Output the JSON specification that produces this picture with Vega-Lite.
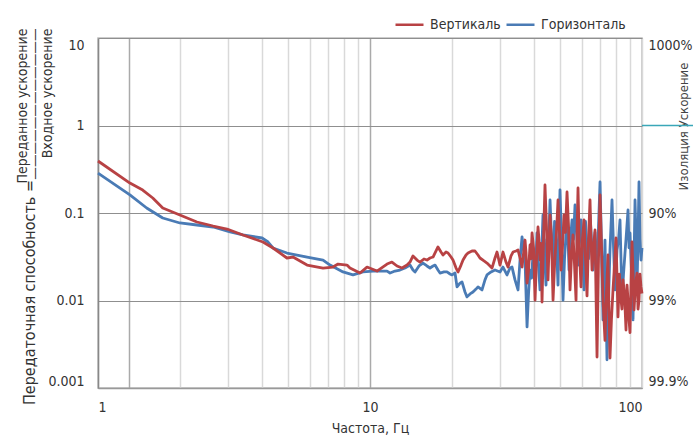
{
  "$schema": "https://vega.github.io/schema/vega-lite/v6.json",
  "width": 544,
  "height": 350,
  "autosize": {"type": "none"},
  "padding": {"left": 98, "top": 38, "right": 51, "bottom": 47},
  "background": "white",
  "config": {
    "font": "Liberation Sans Narrow, DejaVu Sans Condensed, Roboto",
    "view": {"stroke": "#bdbdbd", "strokeWidth": 1.5}
  },
  "title": {
    "text": "Передаточная способность =",
    "orient": "left",
    "anchor": "start",
    "frame": "group",
    "fontSize": 16,
    "fontWeight": "normal",
    "color": "#333333",
    "offset": -23,
    "dx": -17
  },
  "datasets": {
    "curves": [
      {"s": "Горизонталь", "f": 1.0, "v": 0.286},
      {"s": "Горизонталь", "f": 1.31, "v": 0.161},
      {"s": "Горизонталь", "f": 1.51, "v": 0.114},
      {"s": "Горизонталь", "f": 1.73, "v": 0.0877},
      {"s": "Горизонталь", "f": 2.0, "v": 0.0769},
      {"s": "Горизонталь", "f": 2.31, "v": 0.0729},
      {"s": "Горизонталь", "f": 2.65, "v": 0.0692},
      {"s": "Горизонталь", "f": 3.06, "v": 0.0607},
      {"s": "Горизонталь", "f": 3.41, "v": 0.0561},
      {"s": "Горизонталь", "f": 4.01, "v": 0.0518},
      {"s": "Горизонталь", "f": 4.22, "v": 0.0466},
      {"s": "Горизонталь", "f": 4.4, "v": 0.0398},
      {"s": "Горизонталь", "f": 4.95, "v": 0.0349},
      {"s": "Горизонталь", "f": 5.87, "v": 0.0314},
      {"s": "Горизонталь", "f": 6.72, "v": 0.029},
      {"s": "Горизонталь", "f": 7.13, "v": 0.0254},
      {"s": "Горизонталь", "f": 7.96, "v": 0.0212},
      {"s": "Горизонталь", "f": 8.66, "v": 0.0196},
      {"s": "Горизонталь", "f": 9.42, "v": 0.0212},
      {"s": "Горизонталь", "f": 10.26, "v": 0.0217},
      {"s": "Горизонталь", "f": 11.55, "v": 0.0217},
      {"s": "Горизонталь", "f": 11.85, "v": 0.0206},
      {"s": "Горизонталь", "f": 12.36, "v": 0.0217},
      {"s": "Горизонталь", "f": 12.89, "v": 0.0223},
      {"s": "Горизонталь", "f": 13.45, "v": 0.0235},
      {"s": "Горизонталь", "f": 14.03, "v": 0.0254},
      {"s": "Горизонталь", "f": 14.39, "v": 0.0223},
      {"s": "Горизонталь", "f": 14.64, "v": 0.0212},
      {"s": "Горизонталь", "f": 15.14, "v": 0.0248},
      {"s": "Горизонталь", "f": 15.66, "v": 0.0268},
      {"s": "Горизонталь", "f": 16.2, "v": 0.0248},
      {"s": "Горизонталь", "f": 16.62, "v": 0.0235},
      {"s": "Горизонталь", "f": 17.05, "v": 0.0248},
      {"s": "Горизонталь", "f": 17.34, "v": 0.0254},
      {"s": "Горизонталь", "f": 17.78, "v": 0.0223},
      {"s": "Горизонталь", "f": 18.09, "v": 0.0206},
      {"s": "Горизонталь", "f": 18.71, "v": 0.0212},
      {"s": "Горизонталь", "f": 19.19, "v": 0.0212},
      {"s": "Горизонталь", "f": 19.69, "v": 0.0201},
      {"s": "Горизонталь", "f": 20.02, "v": 0.0196},
      {"s": "Горизонталь", "f": 20.54, "v": 0.0206},
      {"s": "Горизонталь", "f": 20.89, "v": 0.0143},
      {"s": "Горизонталь", "f": 21.43, "v": 0.0158},
      {"s": "Горизонталь", "f": 21.79, "v": 0.0163},
      {"s": "Горизонталь", "f": 22.35, "v": 0.0125},
      {"s": "Горизонталь", "f": 22.73, "v": 0.011},
      {"s": "Горизонталь", "f": 23.32, "v": 0.0119},
      {"s": "Горизонталь", "f": 23.91, "v": 0.0125},
      {"s": "Горизонталь", "f": 24.53, "v": 0.0135},
      {"s": "Горизонталь", "f": 24.95, "v": 0.0143},
      {"s": "Горизонталь", "f": 25.81, "v": 0.0132},
      {"s": "Горизонталь", "f": 26.47, "v": 0.0172},
      {"s": "Горизонталь", "f": 26.92, "v": 0.0196},
      {"s": "Горизонталь", "f": 27.86, "v": 0.0212},
      {"s": "Горизонталь", "f": 28.81, "v": 0.0223},
      {"s": "Горизонталь", "f": 30.06, "v": 0.0212},
      {"s": "Горизонталь", "f": 30.83, "v": 0.0241},
      {"s": "Горизонталь", "f": 31.89, "v": 0.0196},
      {"s": "Горизонталь", "f": 32.71, "v": 0.0235},
      {"s": "Горизонталь", "f": 33.28, "v": 0.0241},
      {"s": "Горизонталь", "f": 34.13, "v": 0.0172},
      {"s": "Горизонталь", "f": 35.01, "v": 0.0132},
      {"s": "Горизонталь", "f": 35.61, "v": 0.029},
      {"s": "Горизонталь", "f": 36.22, "v": 0.0532},
      {"s": "Горизонталь", "f": 37.15, "v": 0.029},
      {"s": "Горизонталь", "f": 37.79, "v": 0.005},
      {"s": "Горизонталь", "f": 38.27, "v": 0.012},
      {"s": "Горизонталь", "f": 38.76, "v": 0.0223},
      {"s": "Горизонталь", "f": 39.26, "v": 0.018},
      {"s": "Горизонталь", "f": 39.76, "v": 0.0349},
      {"s": "Горизонталь", "f": 40.1, "v": 0.03},
      {"s": "Горизонталь", "f": 40.44, "v": 0.0172},
      {"s": "Горизонталь", "f": 40.77, "v": 0.03},
      {"s": "Горизонталь", "f": 41.11, "v": 0.0591},
      {"s": "Горизонталь", "f": 41.64, "v": 0.025},
      {"s": "Горизонталь", "f": 42.17, "v": 0.0132},
      {"s": "Горизонталь", "f": 42.7, "v": 0.03},
      {"s": "Горизонталь", "f": 43.25, "v": 0.0949},
      {"s": "Горизонталь", "f": 43.8, "v": 0.035},
      {"s": "Горизонталь", "f": 44.37, "v": 0.015},
      {"s": "Горизонталь", "f": 44.75, "v": 0.05},
      {"s": "Горизонталь", "f": 45.13, "v": 0.029},
      {"s": "Горизонталь", "f": 45.52, "v": 0.06},
      {"s": "Горизонталь", "f": 45.91, "v": 0.1408},
      {"s": "Горизонталь", "f": 46.5, "v": 0.05},
      {"s": "Горизонталь", "f": 47.09, "v": 0.0196},
      {"s": "Горизонталь", "f": 47.7, "v": 0.08},
      {"s": "Горизонталь", "f": 48.3, "v": 0.0491},
      {"s": "Горизонталь", "f": 48.7, "v": 0.03},
      {"s": "Горизонталь", "f": 49.12, "v": 0.015},
      {"s": "Горизонталь", "f": 49.5, "v": 0.06},
      {"s": "Горизонталь", "f": 49.95, "v": 0.1832},
      {"s": "Горизонталь", "f": 50.6, "v": 0.05},
      {"s": "Горизонталь", "f": 51.24, "v": 0.0101},
      {"s": "Горизонталь", "f": 51.9, "v": 0.03},
      {"s": "Горизонталь", "f": 52.56, "v": 0.0561},
      {"s": "Горизонталь", "f": 53.2, "v": 0.09},
      {"s": "Горизонталь", "f": 53.91, "v": 0.0223},
      {"s": "Горизонталь", "f": 54.6, "v": 0.05},
      {"s": "Горизонталь", "f": 55.3, "v": 0.0832},
      {"s": "Горизонталь", "f": 56.0, "v": 0.05},
      {"s": "Горизонталь", "f": 56.72, "v": 0.1234},
      {"s": "Горизонталь", "f": 57.4, "v": 0.07},
      {"s": "Горизонталь", "f": 58.18, "v": 0.0254},
      {"s": "Горизонталь", "f": 58.9, "v": 0.05},
      {"s": "Горизонталь", "f": 59.68, "v": 0.0832},
      {"s": "Горизонталь", "f": 60.4, "v": 0.04},
      {"s": "Горизонталь", "f": 61.22, "v": 0.0132},
      {"s": "Горизонталь", "f": 62.0, "v": 0.08},
      {"s": "Горизонталь", "f": 62.79, "v": 0.0378},
      {"s": "Горизонталь", "f": 63.6, "v": 0.03},
      {"s": "Горизонталь", "f": 64.4, "v": 0.0949},
      {"s": "Горизонталь", "f": 65.2, "v": 0.05},
      {"s": "Горизонталь", "f": 66.06, "v": 0.0223},
      {"s": "Горизонталь", "f": 67.2, "v": 0.06},
      {"s": "Горизонталь", "f": 68.34, "v": 0.0143},
      {"s": "Горизонталь", "f": 69.2, "v": 0.07},
      {"s": "Горизонталь", "f": 70.1, "v": 0.2261},
      {"s": "Горизонталь", "f": 71.0, "v": 0.04},
      {"s": "Горизонталь", "f": 71.9, "v": 0.006},
      {"s": "Горизонталь", "f": 72.5, "v": 0.02},
      {"s": "Горизонталь", "f": 73.11, "v": 0.0491},
      {"s": "Горизонталь", "f": 73.7, "v": 0.01},
      {"s": "Горизонталь", "f": 74.36, "v": 0.0021},
      {"s": "Горизонталь", "f": 75.3, "v": 0.01},
      {"s": "Горизонталь", "f": 76.27, "v": 0.0378},
      {"s": "Горизонталь", "f": 76.9, "v": 0.07},
      {"s": "Горизонталь", "f": 77.57, "v": 0.1408},
      {"s": "Горизонталь", "f": 78.6, "v": 0.04},
      {"s": "Горизонталь", "f": 79.57, "v": 0.0132},
      {"s": "Горизонталь", "f": 80.2, "v": 0.02},
      {"s": "Горизонталь", "f": 80.93, "v": 0.0378},
      {"s": "Горизонталь", "f": 82.0, "v": 0.05},
      {"s": "Горизонталь", "f": 83.01, "v": 0.0832},
      {"s": "Горизонталь", "f": 83.7, "v": 0.03},
      {"s": "Горизонталь", "f": 84.44, "v": 0.0101},
      {"s": "Горизонталь", "f": 85.5, "v": 0.02},
      {"s": "Горизонталь", "f": 86.6, "v": 0.0349},
      {"s": "Горизонталь", "f": 87.7, "v": 0.06},
      {"s": "Горизонталь", "f": 88.84, "v": 0.1082},
      {"s": "Горизонталь", "f": 89.6, "v": 0.04},
      {"s": "Горизонталь", "f": 90.35, "v": 0.0591},
      {"s": "Горизонталь", "f": 91.5, "v": 0.02},
      {"s": "Горизонталь", "f": 92.68, "v": 0.006},
      {"s": "Горизонталь", "f": 93.5, "v": 0.03},
      {"s": "Горизонталь", "f": 94.26, "v": 0.1408},
      {"s": "Горизонталь", "f": 95.0, "v": 0.06},
      {"s": "Горизонталь", "f": 95.86, "v": 0.0143},
      {"s": "Горизонталь", "f": 96.7, "v": 0.05},
      {"s": "Горизонталь", "f": 97.5, "v": 0.2261},
      {"s": "Горизонталь", "f": 98.3, "v": 0.05},
      {"s": "Горизонталь", "f": 99.16, "v": 0.029},
      {"s": "Горизонталь", "f": 100, "v": 0.04},
      {"s": "Вертикаль", "f": 1.0, "v": 0.393},
      {"s": "Вертикаль", "f": 1.31, "v": 0.22},
      {"s": "Вертикаль", "f": 1.46, "v": 0.183},
      {"s": "Вертикаль", "f": 1.59, "v": 0.1484},
      {"s": "Вертикаль", "f": 1.73, "v": 0.114},
      {"s": "Вертикаль", "f": 2.0, "v": 0.0949},
      {"s": "Вертикаль", "f": 2.31, "v": 0.0789},
      {"s": "Вертикаль", "f": 2.65, "v": 0.071},
      {"s": "Вертикаль", "f": 2.98, "v": 0.0656},
      {"s": "Вертикаль", "f": 3.41, "v": 0.0561},
      {"s": "Вертикаль", "f": 4.04, "v": 0.0466},
      {"s": "Вертикаль", "f": 4.4, "v": 0.0398},
      {"s": "Вертикаль", "f": 4.95, "v": 0.0306},
      {"s": "Вертикаль", "f": 5.21, "v": 0.0314},
      {"s": "Вертикаль", "f": 5.87, "v": 0.0254},
      {"s": "Вертикаль", "f": 6.72, "v": 0.0235},
      {"s": "Вертикаль", "f": 7.31, "v": 0.0241},
      {"s": "Вертикаль", "f": 7.63, "v": 0.0261},
      {"s": "Вертикаль", "f": 8.23, "v": 0.0254},
      {"s": "Вертикаль", "f": 8.44, "v": 0.0235},
      {"s": "Вертикаль", "f": 9.19, "v": 0.0206},
      {"s": "Вертикаль", "f": 9.75, "v": 0.0241},
      {"s": "Вертикаль", "f": 10.61, "v": 0.0217},
      {"s": "Вертикаль", "f": 11.55, "v": 0.0261},
      {"s": "Вертикаль", "f": 12.04, "v": 0.0275},
      {"s": "Вертикаль", "f": 12.57, "v": 0.0248},
      {"s": "Вертикаль", "f": 13.11, "v": 0.0235},
      {"s": "Вертикаль", "f": 13.68, "v": 0.0254},
      {"s": "Вертикаль", "f": 14.03, "v": 0.0275},
      {"s": "Вертикаль", "f": 14.39, "v": 0.0323},
      {"s": "Вертикаль", "f": 14.89, "v": 0.029},
      {"s": "Вертикаль", "f": 15.27, "v": 0.0275},
      {"s": "Вертикаль", "f": 15.79, "v": 0.0298},
      {"s": "Вертикаль", "f": 16.2, "v": 0.029},
      {"s": "Вертикаль", "f": 16.62, "v": 0.0306},
      {"s": "Вертикаль", "f": 17.05, "v": 0.0314},
      {"s": "Вертикаль", "f": 17.49, "v": 0.0368},
      {"s": "Вертикаль", "f": 17.78, "v": 0.0409},
      {"s": "Вертикаль", "f": 18.24, "v": 0.0358},
      {"s": "Вертикаль", "f": 18.55, "v": 0.0331},
      {"s": "Вертикаль", "f": 19.03, "v": 0.0358},
      {"s": "Вертикаль", "f": 19.36, "v": 0.0349},
      {"s": "Вертикаль", "f": 19.86, "v": 0.0314},
      {"s": "Вертикаль", "f": 20.19, "v": 0.029},
      {"s": "Вертикаль", "f": 20.72, "v": 0.0235},
      {"s": "Вертикаль", "f": 21.07, "v": 0.0212},
      {"s": "Вертикаль", "f": 21.61, "v": 0.0254},
      {"s": "Вертикаль", "f": 21.98, "v": 0.029},
      {"s": "Вертикаль", "f": 22.54, "v": 0.0331},
      {"s": "Вертикаль", "f": 22.93, "v": 0.0349},
      {"s": "Вертикаль", "f": 23.71, "v": 0.0368},
      {"s": "Вертикаль", "f": 24.32, "v": 0.0368},
      {"s": "Вертикаль", "f": 24.95, "v": 0.0331},
      {"s": "Вертикаль", "f": 25.37, "v": 0.0306},
      {"s": "Вертикаль", "f": 26.25, "v": 0.0283},
      {"s": "Вертикаль", "f": 26.92, "v": 0.0268},
      {"s": "Вертикаль", "f": 27.62, "v": 0.0248},
      {"s": "Вертикаль", "f": 28.09, "v": 0.0235},
      {"s": "Вертикаль", "f": 28.81, "v": 0.0306},
      {"s": "Вертикаль", "f": 29.31, "v": 0.0358},
      {"s": "Вертикаль", "f": 30.06, "v": 0.0254},
      {"s": "Вертикаль", "f": 30.83, "v": 0.0358},
      {"s": "Вертикаль", "f": 31.62, "v": 0.0275},
      {"s": "Вертикаль", "f": 32.16, "v": 0.0241},
      {"s": "Вертикаль", "f": 33.0, "v": 0.0323},
      {"s": "Вертикаль", "f": 33.56, "v": 0.0358},
      {"s": "Вертикаль", "f": 34.42, "v": 0.0368},
      {"s": "Вертикаль", "f": 35.01, "v": 0.0378},
      {"s": "Вертикаль", "f": 35.92, "v": 0.0275},
      {"s": "Вертикаль", "f": 36.22, "v": 0.0241},
      {"s": "Вертикаль", "f": 37.15, "v": 0.0491},
      {"s": "Вертикаль", "f": 37.47, "v": 0.035},
      {"s": "Вертикаль", "f": 37.79, "v": 0.0158},
      {"s": "Вертикаль", "f": 38.27, "v": 0.022},
      {"s": "Вертикаль", "f": 38.76, "v": 0.0431},
      {"s": "Вертикаль", "f": 39.09, "v": 0.03},
      {"s": "Вертикаль", "f": 39.42, "v": 0.0591},
      {"s": "Вертикаль", "f": 39.93, "v": 0.04},
      {"s": "Вертикаль", "f": 40.44, "v": 0.0101},
      {"s": "Вертикаль", "f": 40.95, "v": 0.03},
      {"s": "Вертикаль", "f": 41.46, "v": 0.0692},
      {"s": "Вертикаль", "f": 41.81, "v": 0.05},
      {"s": "Вертикаль", "f": 42.17, "v": 0.029},
      {"s": "Вертикаль", "f": 42.53, "v": 0.045},
      {"s": "Вертикаль", "f": 42.9, "v": 0.0096},
      {"s": "Вертикаль", "f": 43.44, "v": 0.05},
      {"s": "Вертикаль", "f": 43.99, "v": 0.2089},
      {"s": "Вертикаль", "f": 44.55, "v": 0.07},
      {"s": "Вертикаль", "f": 45.13, "v": 0.0172},
      {"s": "Вертикаль", "f": 45.52, "v": 0.04},
      {"s": "Вертикаль", "f": 45.91, "v": 0.0949},
      {"s": "Вертикаль", "f": 46.5, "v": 0.05},
      {"s": "Вертикаль", "f": 47.09, "v": 0.0101},
      {"s": "Вертикаль", "f": 47.7, "v": 0.025},
      {"s": "Вертикаль", "f": 48.3, "v": 0.0491},
      {"s": "Вертикаль", "f": 48.7, "v": 0.08},
      {"s": "Вертикаль", "f": 49.12, "v": 0.1408},
      {"s": "Вертикаль", "f": 49.75, "v": 0.06},
      {"s": "Вертикаль", "f": 50.38, "v": 0.0223},
      {"s": "Вертикаль", "f": 51.0, "v": 0.04},
      {"s": "Вертикаль", "f": 51.68, "v": 0.0949},
      {"s": "Вертикаль", "f": 52.3, "v": 0.06},
      {"s": "Вертикаль", "f": 53.01, "v": 0.1738},
      {"s": "Вертикаль", "f": 53.7, "v": 0.07},
      {"s": "Вертикаль", "f": 54.37, "v": 0.0132},
      {"s": "Вертикаль", "f": 55.0, "v": 0.03},
      {"s": "Вертикаль", "f": 55.77, "v": 0.0561},
      {"s": "Вертикаль", "f": 56.5, "v": 0.025},
      {"s": "Вертикаль", "f": 57.21, "v": 0.0101},
      {"s": "Вертикаль", "f": 57.7, "v": 0.06},
      {"s": "Вертикаль", "f": 58.18, "v": 0.1931},
      {"s": "Вертикаль", "f": 58.9, "v": 0.035},
      {"s": "Вертикаль", "f": 59.68, "v": 0.0143},
      {"s": "Вертикаль", "f": 60.4, "v": 0.05},
      {"s": "Вертикаль", "f": 61.22, "v": 0.0832},
      {"s": "Вертикаль", "f": 62.0, "v": 0.03},
      {"s": "Вертикаль", "f": 62.79, "v": 0.0113},
      {"s": "Вертикаль", "f": 63.6, "v": 0.05},
      {"s": "Вертикаль", "f": 64.4, "v": 0.1408},
      {"s": "Вертикаль", "f": 64.95, "v": 0.05},
      {"s": "Вертикаль", "f": 65.5, "v": 0.0223},
      {"s": "Вертикаль", "f": 66.3, "v": 0.04},
      {"s": "Вертикаль", "f": 67.19, "v": 0.0639},
      {"s": "Вертикаль", "f": 67.75, "v": 0.012},
      {"s": "Вертикаль", "f": 68.34, "v": 0.00226},
      {"s": "Вертикаль", "f": 69.2, "v": 0.03},
      {"s": "Вертикаль", "f": 70.1, "v": 0.1606},
      {"s": "Вертикаль", "f": 71.0, "v": 0.04},
      {"s": "Вертикаль", "f": 71.9, "v": 0.0101},
      {"s": "Вертикаль", "f": 72.5, "v": 0.006},
      {"s": "Вертикаль", "f": 73.11, "v": 0.0035},
      {"s": "Вертикаль", "f": 74.0, "v": 0.012},
      {"s": "Вертикаль", "f": 74.99, "v": 0.0331},
      {"s": "Вертикаль", "f": 75.6, "v": 0.008},
      {"s": "Вертикаль", "f": 76.27, "v": 0.0022},
      {"s": "Вертикаль", "f": 77.2, "v": 0.006},
      {"s": "Вертикаль", "f": 78.23, "v": 0.0132},
      {"s": "Вертикаль", "f": 79.2, "v": 0.025},
      {"s": "Вертикаль", "f": 80.24, "v": 0.0518},
      {"s": "Вертикаль", "f": 80.9, "v": 0.02},
      {"s": "Вертикаль", "f": 81.61, "v": 0.0065},
      {"s": "Вертикаль", "f": 82.6, "v": 0.02},
      {"s": "Вертикаль", "f": 83.72, "v": 0.0101},
      {"s": "Вертикаль", "f": 84.4, "v": 0.008},
      {"s": "Вертикаль", "f": 85.15, "v": 0.0172},
      {"s": "Вертикаль", "f": 86.2, "v": 0.012},
      {"s": "Вертикаль", "f": 87.34, "v": 0.0046},
      {"s": "Вертикаль", "f": 88.1, "v": 0.015},
      {"s": "Вертикаль", "f": 88.84, "v": 0.0101},
      {"s": "Вертикаль", "f": 89.6, "v": 0.006},
      {"s": "Вертикаль", "f": 90.35, "v": 0.0043},
      {"s": "Вертикаль", "f": 91.1, "v": 0.015},
      {"s": "Вертикаль", "f": 91.89, "v": 0.0466},
      {"s": "Вертикаль", "f": 92.7, "v": 0.02},
      {"s": "Вертикаль", "f": 93.46, "v": 0.0078},
      {"s": "Вертикаль", "f": 94.6, "v": 0.015},
      {"s": "Вертикаль", "f": 95.86, "v": 0.0206},
      {"s": "Вертикаль", "f": 96.7, "v": 0.008},
      {"s": "Вертикаль", "f": 97.5, "v": 0.0101},
      {"s": "Вертикаль", "f": 98.3, "v": 0.02},
      {"s": "Вертикаль", "f": 99.16, "v": 0.0143},
      {"s": "Вертикаль", "f": 100, "v": 0.012}
    ],
    "marker": [{"f": 100, "f2": 170, "v": 1}]
  },
  "layer": [
    {
      "data": {"name": "curves"},
      "mark": {"type": "line", "strokeWidth": 2.8, "strokeJoin": "round"},
      "encoding": {
        "x": {
          "field": "f",
          "type": "quantitative",
          "scale": {"type": "log", "domain": [1, 100], "nice": false},
          "axis": {
            "title": "Частота, Гц",
            "values": [1, 1.3, 2, 3, 4, 5, 6, 7, 8, 9, 10, 20, 30, 40, 50, 60, 70, 80, 90, 100],
            "labelExpr": "datum.value == 1 || datum.value == 10 || datum.value == 100 ? format(datum.value, 'd') : ''",
            "labelFlush": true,
            "labelOverlap": false,
            "ticks": false,
            "labelPadding": 12,
            "labelFontSize": 14,
            "labelColor": "#333333",
            "titleFontSize": 14,
            "titleFontWeight": "normal",
            "titleColor": "#333333",
            "titlePadding": 7,
            "domainColor": "#999999",
            "domainWidth": 1.5,
            "grid": true,
            "gridColor": {"condition": {"test": "datum.value == 10 || datum.value == 1.3", "value": "#aaaaaa"}, "value": "#d9d9d9"},
            "gridWidth": 1.5
          }
        },
        "y": {
          "field": "v",
          "type": "quantitative",
          "scale": {"type": "log", "domain": [0.001, 10], "nice": false},
          "axis": {
            "orient": "left",
            "values": [0.001, 0.01, 0.1, 1, 10],
            "format": ".3~f",
            "labelFlush": true,
            "ticks": false,
            "labelPadding": 14,
            "labelFontSize": 14,
            "labelColor": "#333333",
            "domainColor": "#888888",
            "domainWidth": 1.5,
            "grid": true,
            "gridColor": "#8f8f8f",
            "gridWidth": 1.2,
            "title": ["Переданное ускорение", "————————————", "Входное ускорение  "],
            "titleAngle": 270,
            "titleAlign": "right",
            "titleBaseline": "middle",
            "titleX": -76,
            "titleY": -10,
            "titleFontSize": 14,
            "titleFontWeight": "normal",
            "titleColor": "#333333",
            "titleLineHeight": 12.5
          }
        },
        "color": {
          "field": "s",
          "type": "nominal",
          "scale": {"domain": ["Вертикаль", "Горизонталь"], "range": ["#b84244", "#4a7bb5"]},
          "legend": {
            "orient": "none",
            "legendX": 296,
            "legendY": -29,
            "direction": "horizontal",
            "title": null,
            "symbolType": "stroke",
            "symbolSize": 784,
            "symbolStrokeWidth": 2.5,
            "labelFontSize": 14,
            "labelColor": "#333333",
            "labelOffset": 5,
            "columnPadding": 0
          }
        }
      }
    },
    {
      "data": {"name": "marker"},
      "mark": {"type": "rule", "color": "#3aa7b8", "strokeWidth": 1.5},
      "encoding": {
        "x": {"field": "f", "type": "quantitative", "scale": {"type": "log", "domain": [1, 100], "nice": false}},
        "x2": {"field": "f2"},
        "y": {
          "field": "v",
          "type": "quantitative",
          "scale": {"type": "log", "domain": [0.001, 10], "nice": false},
          "axis": {
            "orient": "right",
            "values": [0.001, 0.01, 0.1, 1, 10],
            "labelExpr": "datum.value == 10 ? '1000%' : datum.value == 1 ? '' : datum.value == 0.1 ? '90%' : datum.value == 0.01 ? '99%' : '99.9%'",
            "labelFlush": true,
            "ticks": false,
            "domain": false,
            "grid": false,
            "labelPadding": 6,
            "labelFontSize": 14,
            "labelColor": "#333333",
            "title": "Изоляция    Ускорение",
            "titleAngle": 270,
            "titleX": 41,
            "titleY": 88,
            "titleAlign": "center",
            "titleBaseline": "middle",
            "titleFontSize": 13,
            "titleFontWeight": "normal",
            "titleColor": "#444444"
          }
        }
      }
    }
  ],
  "resolve": {"scale": {"y": "independent"}}
}
